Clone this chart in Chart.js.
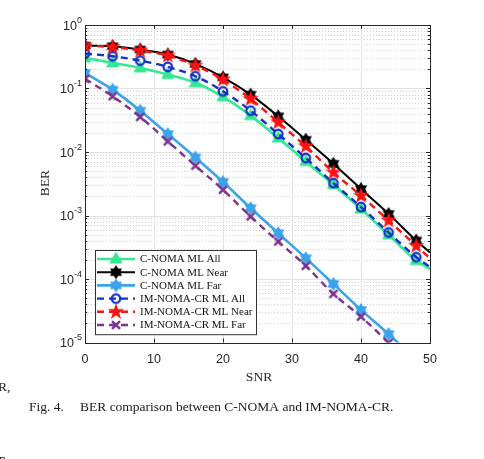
<!DOCTYPE html>
<html>
<head>
<meta charset="utf-8">
<script src="https://cdn.jsdelivr.net/npm/chart.js@4.4.1/dist/chart.umd.min.js"></script>
<style>
  html, body { margin: 0; padding: 0; background: #fff; }
  #wrap { position: relative; width: 484px; height: 459px; overflow: hidden; }
</style>
</head>
<body>
<div id="wrap"><canvas id="berChart" width="484" height="459"></canvas></div>
<script>
// SNR points (markers every 4 dB, the line runs on to 50)
const snr = [0, 4, 8, 12, 16, 20, 24, 28, 32, 36, 40, 44, 48, 50];

// BER values
const cNomaAll  = [0.304, 0.253, 0.211, 0.166, 0.123, 0.0737, 0.0374, 0.0166, 0.00711, 0.00305, 0.00126, 4.96e-4, 1.95e-4, 1.43e-4];
const cNomaNear = [0.475, 0.463, 0.411, 0.343, 0.244, 0.150, 0.0801, 0.0365, 0.0156, 0.00654, 0.00261, 1.06e-3, 4.04e-4, 2.61e-4];
const cNomaFar  = [0.176, 0.0961, 0.0448, 0.0192, 0.00822, 0.00338, 0.00131, 5.27e-4, 2.13e-4, 8.37e-5, 3.26e-5, 1.36e-5, 5.3e-6, 3.4e-6];
const imAll     = [0.355, 0.322, 0.275, 0.219, 0.156, 0.0903, 0.0448, 0.0192, 0.00804, 0.00324, 0.00136, 5.40e-4, 2.21e-4, 1.55e-4];
const imNear    = [0.475, 0.447, 0.396, 0.330, 0.230, 0.138, 0.0686, 0.0293, 0.0123, 0.00477, 0.00205, 8.34e-4, 3.33e-4, 2.13e-4];
const imFar     = [0.142, 0.0754, 0.0356, 0.0147, 0.00608, 0.00254, 9.64e-4, 3.89e-4, 1.61e-4, 5.82e-5, 2.55e-5, 9.9e-6, 3.5e-6, 2.2e-6];

const seriesNames = ['C-NOMA ML All', 'C-NOMA ML Near', 'C-NOMA ML Far',
                     'IM-NOMA-CR ML All', 'IM-NOMA-CR ML Near', 'IM-NOMA-CR ML Far'];

// tick labels
const xTicks = [0, 10, 20, 30, 40, 50];
const yExponents = [0, -1, -2, -3, -4, -5];

const SERIF = '"Liberation Serif", "Times New Roman", serif';
const SANS = '"Liberation Sans", Arial, sans-serif';
const AXIS_COLOR = '#262626';

// ---- marker images ----
function makeMarker(size, drawFn) {
    const c = document.createElement('canvas');
    c.width = size; c.height = size;
    const g = c.getContext('2d');
    g.translate(size / 2, size / 2);
    drawFn(g);
    return c;
}

function starPath(g, n, rOut, rIn) {
    g.beginPath();
    for (let i = 0; i < 2 * n; i++) {
        const r = i % 2 === 0 ? rOut : rIn;
        const a = -Math.PI / 2 + i * Math.PI / n;
        const px = r * Math.cos(a), py = r * Math.sin(a);
        if (i === 0) g.moveTo(px, py); else g.lineTo(px, py);
    }
    g.closePath();
}

const markerTri = makeMarker(16, g => {
    g.beginPath();
    g.moveTo(0, -6.5); g.lineTo(6, 4); g.lineTo(-6, 4); g.closePath();
    g.fillStyle = '#35e891'; g.fill();
    g.strokeStyle = '#35e891'; g.lineWidth = 1; g.stroke();
});
const markerHexBlack = makeMarker(18, g => {
    starPath(g, 6, 7, 4.2);
    g.fillStyle = '#000'; g.fill();
});
const markerHexBlue = makeMarker(18, g => {
    starPath(g, 6, 7, 4.2);
    g.fillStyle = '#3aa3ea'; g.fill();
});
const markerCircle = makeMarker(16, g => {
    g.beginPath(); g.arc(0, 0, 4.3, 0, Math.PI * 2);
    g.strokeStyle = '#1530c8'; g.lineWidth = 2.2; g.stroke();
});
const markerPenta = makeMarker(22, g => {
    starPath(g, 5, 8.5, 3.4);
    g.fillStyle = '#ff1010'; g.fill();
});
const markerX = makeMarker(14, g => {
    g.beginPath();
    g.moveTo(-3.2, -3.2); g.lineTo(3.2, 3.2);
    g.moveTo(3.2, -3.2); g.lineTo(-3.2, 3.2);
    g.strokeStyle = '#7b3590'; g.lineWidth = 2.6; g.lineCap = 'round'; g.stroke();
});

function pts(values) {
    return snr.map((s, i) => ({ x: s, y: values[i] }));
}

// the last point (50 dB) only carries the line, no marker
const markerRadius = c => (c.dataIndex === snr.length - 1 ? 0 : 5);

function series(i, values, color, width, dash, marker) {
    return {
        label: seriesNames[i],
        data: pts(values),
        borderColor: color,
        backgroundColor: color,
        borderWidth: width,
        borderDash: dash,
        pointStyle: marker,
        pointRadius: markerRadius,
        cubicInterpolationMode: 'monotone',
        order: -i // later series drawn on top, like the original
    };
}

const datasets = [
    series(0, cNomaAll,  '#35e891', 2.6, [], markerTri),
    series(1, cNomaNear, '#000000', 2.0, [], markerHexBlack),
    series(2, cNomaFar,  '#3aa3ea', 2.6, [], markerHexBlue),
    series(3, imAll,     '#1530c8', 2.4, [7, 5], markerCircle),
    series(4, imNear,    '#ff1010', 2.4, [7, 5], markerPenta),
    series(5, imFar,     '#7b3590', 2.4, [7, 5], markerX)
];

// ---- grid under the data ----
const gridPlugin = {
    id: 'matlabGrid',
    beforeDatasetsDraw(chart) {
        const { ctx, chartArea: a, scales: { x, y } } = chart;
        ctx.save();
        // minor dotted lines
        ctx.strokeStyle = '#c4c4c4';
        ctx.lineWidth = 0.8;
        ctx.setLineDash([1, 2]);
        yExponents.filter(e => e < 0).forEach(e => {
            for (let k = 2; k <= 9; k++) {
                const py = Math.round(y.getPixelForValue(k * Math.pow(10, e))) + 0.5;
                ctx.beginPath(); ctx.moveTo(a.left, py); ctx.lineTo(a.right, py); ctx.stroke();
            }
        });
        // major solid lines
        ctx.setLineDash([]);
        ctx.strokeStyle = '#e2e2e2';
        ctx.lineWidth = 1;
        yExponents.forEach(e => {
            const py = Math.round(y.getPixelForValue(Math.pow(10, e))) + 0.5;
            ctx.beginPath(); ctx.moveTo(a.left, py); ctx.lineTo(a.right, py); ctx.stroke();
        });
        xTicks.forEach(v => {
            const px = Math.round(x.getPixelForValue(v)) + 0.5;
            ctx.beginPath(); ctx.moveTo(px, a.top); ctx.lineTo(px, a.bottom); ctx.stroke();
        });
        ctx.restore();
    },
    afterDatasetsDraw(chart) {
        const { ctx, chartArea: a, scales: { x, y } } = chart;
        ctx.save();
        // box and inward ticks
        ctx.strokeStyle = AXIS_COLOR;
        ctx.lineWidth = 1;
        ctx.strokeRect(Math.round(a.left) + 0.5, Math.round(a.top) + 0.5,
                       Math.round(a.right - a.left), Math.round(a.bottom - a.top));
        ctx.beginPath();
        yExponents.forEach(e => {
            const py = Math.round(y.getPixelForValue(Math.pow(10, e))) + 0.5;
            ctx.moveTo(a.left, py); ctx.lineTo(a.left + 4, py);
            ctx.moveTo(a.right, py); ctx.lineTo(a.right - 4, py);
            if (e < 0) {
                for (let k = 2; k <= 9; k++) {
                    const pm = Math.round(y.getPixelForValue(k * Math.pow(10, e))) + 0.5;
                    ctx.moveTo(a.left, pm); ctx.lineTo(a.left + 2.2, pm);
                    ctx.moveTo(a.right, pm); ctx.lineTo(a.right - 2.2, pm);
                }
            }
        });
        xTicks.forEach(v => {
            const px = Math.round(x.getPixelForValue(v)) + 0.5;
            ctx.moveTo(px, a.bottom); ctx.lineTo(px, a.bottom - 4);
            ctx.moveTo(px, a.top); ctx.lineTo(px, a.top + 4);
        });
        ctx.stroke();

        // legend box inside the axes
        const lx = 95, ly = 250, lw = 161, rowH = 13.2;
        const lh = rowH * datasets.length + 5;
        ctx.fillStyle = '#fff';
        ctx.fillRect(lx, ly, lw, lh);
        ctx.strokeStyle = '#333';
        ctx.strokeRect(lx + 0.5, ly + 0.5, lw, lh);
        ctx.font = '11px ' + SERIF;
        ctx.textBaseline = 'middle';
        chart.data.datasets.forEach((ds, i) => {
            const cy = ly + 9 + i * rowH;
            ctx.strokeStyle = ds.borderColor;
            ctx.lineWidth = ds.borderWidth;
            ctx.setLineDash(ds.borderDash);
            ctx.beginPath(); ctx.moveTo(lx + 2, cy); ctx.lineTo(lx + 40, cy); ctx.stroke();
            ctx.setLineDash([]);
            const m = ds.pointStyle;
            ctx.drawImage(m, lx + 21 - m.width / 2, cy - m.height / 2);
            ctx.fillStyle = '#111';
            ctx.fillText(ds.label, lx + 45, cy + 0.5);
        });
        ctx.restore();
    },
    afterDraw(chart) {
        const { ctx, scales: { y } } = chart;
        ctx.save();
        ctx.fillStyle = AXIS_COLOR;
        ctx.textBaseline = 'middle';
        // y tick labels 10^n
        yExponents.forEach(e => {
            const py = y.getPixelForValue(Math.pow(10, e));
            const exp = String(e);
            ctx.font = '9px ' + SANS;
            const ew = ctx.measureText(exp).width;
            ctx.font = '12.5px ' + SANS;
            const bw = ctx.measureText('10').width;
            const right = 82;
            ctx.fillText('10', right - ew - bw, py + 1.5);
            ctx.font = '9px ' + SANS;
            ctx.fillText(exp, right - ew, py - 4.5);
        });
        // axis titles
        ctx.font = '13.5px ' + SERIF;
        ctx.textAlign = 'center';
        ctx.fillText('SNR', 259, 377);
        ctx.save();
        ctx.translate(45, 183);
        ctx.rotate(-Math.PI / 2);
        ctx.fillText('BER', 0, 0);
        ctx.restore();
        // caption and text from the neighbouring column
        ctx.fillStyle = '#1a1a1a';
        ctx.textAlign = 'left';
        ctx.font = '13.5px ' + SERIF;
        ctx.fillText('Fig. 4.', 29, 407);
        ctx.fillText('BER comparison between C-NOMA and IM-NOMA-CR.', 80, 407);
        ctx.fillText('R,', -2, 387);
        ctx.fillText('n-', -1, 459);
        ctx.restore();
    }
};

const ctx = document.getElementById('berChart').getContext('2d');
window.berChart = new Chart(ctx, {
    type: 'line',
    data: { datasets: datasets },
    options: {
        responsive: false,
        animation: false,
        events: [],
        layout: { padding: { left: 85, right: 54, top: 25, bottom: 86.5 } },
        scales: {
            x: {
                type: 'linear',
                min: 0,
                max: 50,
                afterBuildTicks: s => { s.ticks = xTicks.map(v => ({ value: v })); },
                afterFit: s => { s.height = 30; },
                grid: { display: false },
                border: { display: false },
                ticks: { color: AXIS_COLOR, font: { family: SANS, size: 12.5 }, padding: 2, maxRotation: 0 }
            },
            y: {
                type: 'logarithmic',
                min: 1e-5,
                max: 1,
                afterFit: s => { s.width = 0; },
                grid: { display: false },
                border: { display: false },
                ticks: { display: false }
            }
        },
        plugins: {
            legend: { display: false },
            tooltip: { enabled: false }
        }
    },
    plugins: [gridPlugin]
});
</script>
</body>
</html>
